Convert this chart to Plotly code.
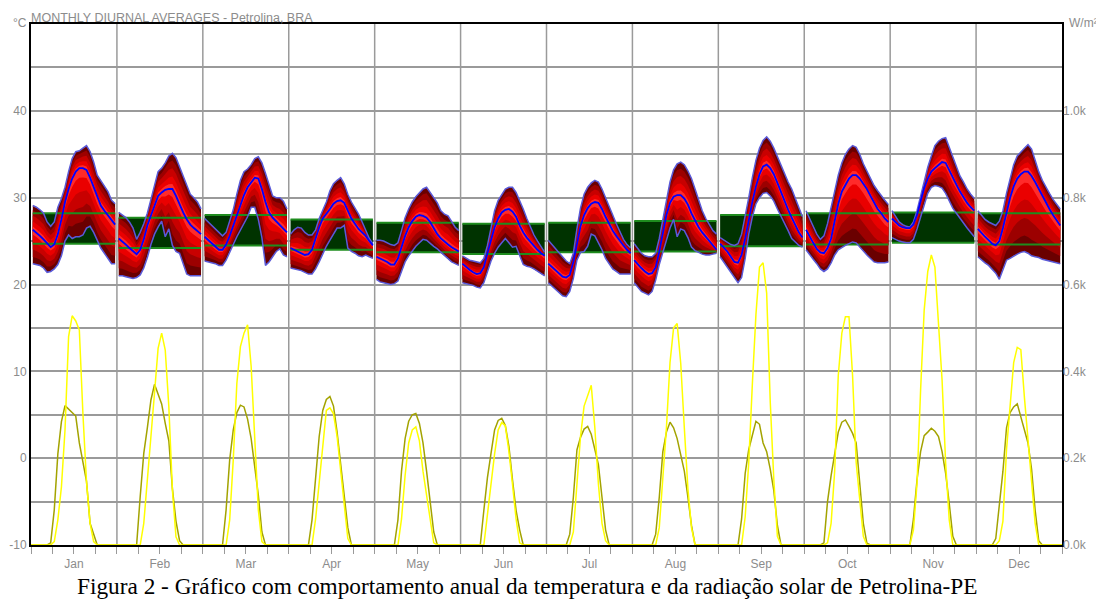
import plotly.graph_objects as go

months = ["Jan", "Feb", "Mar", "Apr", "May", "Jun", "Jul", "Aug", "Sep", "Oct", "Nov", "Dec"]
temp_ticks = [-10, 0, 10, 20, 30, 40]
temp_tick_text = ["-10", "0", "10", "20", "30", "40"]
rad_ticks = [0, 200, 400, 600, 800, 1000]
rad_tick_text = ["0.0k", "0.2k", "0.4k", "0.6k", "0.8k", "1.0k"]

# comfort band (deg C) per month
comfort_low = [24.7, 24.2, 24.5, 24.0, 23.7, 23.5, 23.7, 23.8, 24.4, 24.6, 24.8, 24.6]
comfort_high = [28.2, 27.7, 28.0, 27.5, 27.1, 27.0, 27.1, 27.3, 28.0, 28.2, 28.3, 28.2]

# hourly average maximum dry bulb temperature (deg C), 24 values per month
temp_max = [
    [29.1, 28.9, 28.6, 28.2, 27.2, 26.7, 27.2, 28.9, 29.9, 31.2, 33.0, 34.5, 35.3, 35.4, 35.7, 36.0, 35.3, 34.1, 32.6, 32.0, 31.4, 30.7, 29.7, 29.3],
    [28.3, 28.0, 27.7, 27.2, 26.5, 25.2, 26.0, 27.0, 28.2, 29.8, 31.5, 33.0, 33.4, 34.0, 34.8, 35.1, 34.6, 33.6, 32.5, 31.5, 30.4, 30.0, 29.5, 28.7],
    [27.6, 27.2, 26.7, 26.3, 25.9, 25.6, 26.0, 27.3, 28.6, 30.4, 32.0, 33.0, 33.3, 33.8, 34.5, 34.7, 34.0, 32.8, 31.5, 30.2, 30.0, 30.0, 29.6, 28.7],
    [25.8, 26.3, 26.6, 26.5, 26.0, 25.7, 25.7, 26.3, 27.6, 28.6, 29.5, 30.8, 31.6, 32.0, 32.3, 31.6, 30.4, 29.5, 28.8, 28.1, 27.2, 26.2, 25.3, 24.7],
    [25.1, 25.1, 25.0, 24.8, 24.6, 24.5, 24.8, 26.2, 27.7, 28.7, 29.5, 30.1, 30.5, 31.0, 31.2, 30.6, 30.0, 29.4, 28.5, 28.1, 27.9, 27.2, 26.6, 26.2],
    [23.3, 23.0, 22.8, 22.7, 22.6, 22.5, 23.0, 24.5, 26.5, 28.5, 29.7, 30.4, 31.0, 31.2, 31.2, 30.6, 29.7, 28.7, 27.6, 26.6, 25.7, 25.0, 24.3, 23.7],
    [25.1, 24.6, 24.1, 23.6, 23.1, 22.7, 22.4, 23.6, 26.4, 28.8, 30.4, 31.2, 31.7, 32.0, 31.8, 31.0, 30.0, 29.1, 28.0, 27.0, 26.0, 25.2, 24.6, 24.2],
    [24.7, 24.1, 23.6, 23.3, 23.2, 23.2, 23.6, 25.3, 27.6, 29.9, 31.8, 33.2, 33.9, 34.1, 33.8, 33.1, 32.2, 31.0, 29.7, 28.5, 27.6, 26.9, 26.2, 25.8],
    [25.4, 25.1, 24.8, 24.6, 24.5, 24.7, 25.8, 27.8, 30.0, 32.3, 34.3, 35.7, 36.6, 37.0, 36.5, 35.7, 34.7, 33.6, 32.6, 31.8, 31.0, 30.0, 28.8, 27.8],
    [28.5, 27.6, 26.7, 25.8, 25.2, 25.6, 27.0, 29.0, 31.0, 32.6, 34.0, 35.0, 35.6, 36.0, 35.8, 35.0, 33.9, 33.0, 32.2, 31.4, 30.8, 30.2, 29.7, 29.2],
    [28.5, 27.8, 27.2, 26.9, 26.7, 26.6, 27.2, 28.5, 30.2, 32.0, 33.5, 34.8, 36.0, 36.5, 36.8, 36.9, 35.8, 34.5, 33.4, 32.5, 31.8, 31.0, 30.4, 29.9],
    [28.5, 28.0, 27.5, 27.2, 27.0, 26.8, 27.3, 28.5, 30.5, 32.2, 33.8, 34.8, 35.3, 35.7, 36.1, 35.6, 34.3, 33.0, 32.0, 31.2, 30.5, 29.8, 29.2, 28.7],
]

# hourly average dry bulb temperature (deg C)
temp_mean = [
    [26.3, 26.0, 25.6, 25.2, 24.7, 24.3, 24.6, 25.8, 27.5, 29.5, 31.0, 32.2, 33.0, 33.4, 33.4, 33.2, 32.3, 31.2, 30.0, 29.1, 28.5, 28.0, 27.4, 26.9],
    [25.3, 25.0, 24.6, 24.2, 23.8, 23.5, 24.0, 25.2, 26.8, 28.0, 29.2, 30.2, 30.6, 30.9, 31.0, 31.0, 30.2, 29.2, 28.3, 27.5, 26.9, 26.5, 26.1, 25.8],
    [25.5, 25.1, 24.7, 24.3, 24.0, 24.0, 24.6, 25.6, 26.8, 28.0, 29.2, 30.3, 31.2, 31.8, 32.3, 32.2, 31.0, 29.5, 28.3, 27.7, 27.3, 26.9, 26.5, 26.0],
    [24.2, 24.0, 23.8, 23.6, 23.4, 23.5, 24.0, 25.3, 26.6, 27.6, 28.1, 28.7, 29.3, 29.6, 29.7, 29.4, 28.5, 27.6, 27.0, 26.4, 26.0, 25.6, 25.0, 24.5],
    [23.2, 23.0, 22.8, 22.6, 22.3, 22.3, 23.0, 24.3, 25.6, 26.6, 27.3, 27.8, 28.0, 27.9, 27.7, 27.2, 26.5, 25.8, 25.3, 24.9, 24.6, 24.3, 24.0, 23.8],
    [22.4, 22.0, 21.7, 21.4, 21.2, 21.3, 22.0, 23.6, 25.2, 26.6, 27.6, 28.3, 28.6, 28.7, 28.4, 27.8, 26.8, 26.0, 25.4, 24.9, 24.4, 24.0, 23.6, 23.3],
    [22.4, 22.0, 21.6, 21.2, 20.9, 20.8, 21.1, 22.6, 24.8, 26.7, 28.0, 28.8, 29.3, 29.5, 29.4, 28.7, 27.8, 27.0, 26.2, 25.6, 25.0, 24.5, 24.0, 23.6],
    [22.8, 22.3, 21.9, 21.5, 21.2, 21.3, 22.0, 23.8, 26.0, 28.0, 29.4, 30.1, 30.3, 30.3, 29.9, 29.2, 28.2, 27.3, 26.6, 26.0, 25.5, 25.0, 24.5, 24.0],
    [24.7, 24.3, 23.8, 23.2, 22.6, 22.5, 23.4, 25.3, 27.5, 29.5, 31.3, 32.7, 33.6, 33.8, 33.4, 32.7, 31.7, 30.6, 29.5, 28.6, 27.7, 26.8, 26.0, 25.4],
    [26.3, 25.5, 24.8, 24.1, 23.7, 23.6, 24.2, 25.3, 27.2, 29.3, 30.7, 31.5, 32.2, 32.6, 32.6, 32.2, 31.6, 31.0, 30.2, 29.4, 28.7, 28.2, 27.6, 27.2],
    [27.6, 27.2, 26.8, 26.6, 26.5, 26.5, 26.9, 28.0, 29.6, 31.1, 32.2, 33.0, 33.4, 33.8, 34.1, 34.0, 33.1, 32.2, 31.5, 30.7, 30.0, 29.4, 28.9, 28.5],
    [26.4, 25.9, 25.5, 25.1, 24.7, 24.5, 25.0, 26.5, 28.3, 30.0, 31.3, 32.2, 32.7, 33.0, 33.0, 32.5, 31.8, 31.0, 30.2, 29.4, 28.7, 28.0, 27.4, 26.8],
]

# hourly average minimum dry bulb temperature (deg C)
temp_min = [
    [22.4, 22.3, 22.2, 21.9, 21.4, 21.5, 21.8, 22.3, 23.3, 25.0, 25.7, 25.3, 25.5, 25.5, 25.7, 26.5, 26.7, 26.0, 25.0, 24.2, 23.6, 23.0, 22.4, 22.4],
    [21.0, 21.0, 20.9, 20.8, 20.7, 20.8, 21.1, 21.9, 23.1, 24.6, 25.8, 26.6, 27.3, 25.5, 26.4, 24.5, 23.8, 23.6, 22.5, 21.2, 21.0, 21.0, 21.0, 21.0],
    [22.7, 22.6, 22.5, 22.4, 22.2, 22.2, 22.8, 23.8, 24.6, 25.5, 26.3, 27.0, 27.8, 28.9, 28.9, 27.5, 25.4, 22.2, 22.6, 23.2, 23.8, 24.1, 23.4, 23.2],
    [21.9, 21.8, 21.7, 21.6, 21.4, 21.2, 21.2, 21.8, 22.6, 23.6, 24.4, 25.1, 25.8, 26.5, 26.5, 26.8, 24.2, 23.8, 23.6, 23.3, 23.2, 23.4, 23.2, 23.0],
    [20.6, 20.3, 20.2, 20.1, 20.0, 20.1, 20.4, 21.5, 22.6, 23.3, 23.9, 24.4, 24.8, 25.2, 25.1, 24.7, 24.4, 24.1, 23.7, 23.3, 22.9, 22.6, 22.4, 22.2],
    [20.2, 20.1, 20.0, 19.9, 19.7, 19.6, 20.2, 21.5, 22.7, 23.6, 24.3, 24.8, 25.3, 24.8, 24.3, 24.4, 23.3, 22.3, 22.1, 22.0, 21.8, 21.5, 21.2, 21.0],
    [20.2, 19.8, 19.4, 19.1, 18.7, 18.6, 19.2, 20.7, 22.8, 23.7, 23.8, 24.4, 25.8, 25.6, 24.8, 24.0, 23.0, 22.4, 21.8, 21.5, 21.2, 21.2, 21.2, 21.2],
    [20.2, 19.7, 19.2, 19.0, 18.8, 19.2, 20.5, 22.3, 23.7, 24.9, 26.5, 27.5, 25.5, 26.4, 26.2, 25.4, 24.3, 23.9, 23.7, 23.5, 23.4, 23.4, 23.5, 23.6],
    [23.2, 22.6, 22.0, 21.4, 20.8, 20.2, 20.8, 23.0, 25.8, 27.8, 29.3, 30.0, 30.5, 30.6, 30.2, 29.6, 28.7, 27.9, 27.0, 26.2, 25.3, 24.9, 24.5, 24.3],
    [24.0, 23.4, 22.9, 22.4, 21.8, 21.5, 21.8, 22.5, 23.4, 24.0, 24.3, 24.5, 24.7, 24.9, 24.8, 24.3, 23.8, 23.4, 23.0, 22.6, 22.5, 22.5, 22.5, 22.6],
    [25.4, 25.2, 25.0, 24.9, 24.8, 24.8, 25.2, 26.4, 27.8, 29.3, 30.5, 31.2, 31.4, 31.3, 31.1, 30.5, 29.6, 28.8, 28.2, 27.6, 27.0, 26.5, 26.0, 25.5],
    [23.2, 22.8, 22.5, 22.2, 21.8, 21.3, 20.6, 21.8, 22.8, 23.0, 23.3, 23.5, 23.7, 23.8, 23.6, 23.3, 23.2, 23.1, 22.9, 22.8, 22.7, 22.6, 22.5, 22.4],
]

# hourly direct normal radiation (W/m2) - yellow
rad_direct = [
    [0, 0, 0, 0, 0, 0, 8, 58, 134, 265, 480, 528, 516, 495, 303, 146, 50, 8, 0, 0, 0, 0, 0, 0],
    [0, 0, 0, 0, 0, 0, 0, 50, 157, 242, 350, 453, 488, 449, 319, 127, 19, 0, 0, 0, 0, 0, 0, 0],
    [0, 0, 0, 0, 0, 0, 0, 58, 196, 372, 457, 488, 507, 411, 250, 81, 8, 0, 0, 0, 0, 0, 0, 0],
    [0, 0, 0, 0, 0, 0, 0, 60, 140, 230, 310, 316, 302, 250, 170, 85, 15, 0, 0, 0, 0, 0, 0, 0],
    [0, 0, 0, 0, 0, 0, 0, 60, 160, 235, 265, 272, 240, 170, 115, 50, 5, 0, 0, 0, 0, 0, 0, 0],
    [0, 0, 0, 0, 0, 0, 0, 70, 142, 210, 265, 282, 275, 215, 140, 60, 5, 0, 0, 0, 0, 0, 0, 0],
    [0, 0, 0, 0, 0, 0, 0, 30, 130, 250, 320, 345, 368, 270, 140, 50, 10, 0, 0, 0, 0, 0, 0, 0],
    [0, 0, 0, 0, 0, 0, 0, 40, 150, 270, 420, 500, 510, 418, 270, 130, 40, 0, 0, 0, 0, 0, 0, 0],
    [0, 0, 0, 0, 0, 0, 0, 65, 190, 370, 530, 640, 650, 580, 330, 150, 20, 0, 0, 0, 0, 0, 0, 0],
    [0, 0, 0, 0, 0, 0, 5, 50, 170, 390, 488, 526, 526, 390, 190, 95, 20, 0, 0, 0, 0, 0, 0, 0],
    [0, 0, 0, 0, 0, 0, 35, 142, 357, 541, 630, 668, 640, 500, 380, 188, 58, 0, 0, 0, 0, 0, 0, 0],
    [0, 0, 0, 0, 0, 0, 10, 55, 219, 320, 420, 455, 450, 340, 245, 157, 50, 0, 0, 0, 0, 0, 0, 0],
]

# hourly global horizontal radiation (W/m2) - olive
rad_global = [
    [0, 0, 0, 0, 0, 5, 81, 210, 284, 321, 313, 305, 297, 235, 189, 147, 50, 23, 0, 0, 0, 0, 0, 0],
    [0, 0, 0, 0, 0, 0, 111, 211, 270, 334, 370, 348, 325, 280, 240, 130, 55, 10, 0, 0, 0, 0, 0, 0],
    [0, 0, 0, 0, 0, 0, 81, 196, 265, 305, 322, 318, 290, 245, 180, 115, 30, 0, 0, 0, 0, 0, 0, 0],
    [0, 0, 0, 0, 0, 0, 58, 160, 250, 310, 335, 342, 320, 260, 190, 110, 40, 0, 0, 0, 0, 0, 0, 0],
    [0, 0, 0, 0, 0, 0, 58, 170, 245, 285, 300, 303, 280, 235, 170, 100, 30, 0, 0, 0, 0, 0, 0, 0],
    [0, 0, 0, 0, 0, 0, 80, 155, 211, 265, 287, 292, 275, 227, 150, 80, 35, 0, 0, 0, 0, 0, 0, 0],
    [0, 0, 0, 0, 0, 0, 25, 110, 219, 248, 267, 273, 255, 222, 185, 110, 35, 0, 0, 0, 0, 0, 0, 0],
    [0, 0, 0, 0, 0, 0, 25, 110, 215, 260, 283, 270, 245, 211, 170, 110, 45, 0, 0, 0, 0, 0, 0, 0],
    [0, 0, 0, 0, 0, 0, 60, 165, 220, 255, 285, 278, 235, 215, 175, 125, 45, 0, 0, 0, 0, 0, 0, 0],
    [0, 0, 0, 0, 0, 5, 100, 160, 215, 260, 283, 288, 273, 257, 235, 150, 50, 4, 0, 0, 0, 0, 0, 0],
    [0, 0, 0, 0, 0, 0, 60, 150, 215, 252, 260, 269, 262, 250, 215, 165, 96, 20, 0, 0, 0, 0, 0, 0],
    [0, 0, 0, 0, 0, 15, 90, 170, 270, 305, 318, 325, 295, 265, 235, 175, 80, 10, 0, 0, 0, 0, 0, 0],
]

HPD = 24  # hours per month block on the x axis


def hour_x(m):
    return [HPD * m + 0.5 + h for h in range(HPD)]


fig = go.Figure()

# comfort band (dark green) underneath
for m in range(12):
    xs = hour_x(m)
    lo, hi = comfort_low[m], comfort_high[m]
    fig.add_trace(go.Scatter(
        x=[xs[0], xs[-1], xs[-1], xs[0], xs[0]], y=[lo, lo, hi, hi, lo],
        mode="lines", fill="toself", fillcolor="#003300",
        line=dict(width=0, color="#003300"), hoverinfo="skip"))

# temperature range, layered to imitate the red gradient around the mean
layers = [(1.0, "#6a0000"), (0.8, "#9c0000"), (0.58, "#c80000"), (0.35, "#ea0000"), (0.14, "#ff2a2a")]
for m in range(12):
    xs = hour_x(m)
    for f, col in layers:
        up = [a + f * (b - a) for a, b in zip(temp_mean[m], temp_max[m])]
        dn = [a - f * (a - c) for a, c in zip(temp_mean[m], temp_min[m])]
        fig.add_trace(go.Scatter(
            x=xs + xs[::-1], y=up + dn[::-1], mode="lines", fill="toself",
            fillcolor=col, line=dict(width=0, color=col), hoverinfo="skip"))

# comfort band edges
bx, by_lo, by_hi = [], [], []
for m in range(12):
    xs = hour_x(m)
    bx += [xs[0], xs[-1], None]
    by_lo += [comfort_low[m], comfort_low[m], None]
    by_hi += [comfort_high[m], comfort_high[m], None]
for yy in (by_lo, by_hi):
    fig.add_trace(go.Scatter(x=bx, y=yy, mode="lines",
                             line=dict(color="#1e8c1e", width=2), hoverinfo="skip"))


# min / max outlines and mean line
def joined(series):
    xx, yy = [], []
    for m in range(12):
        xx += hour_x(m) + [None]
        yy += series[m] + [None]
    return xx, yy


for series, col, w in ((temp_max, "#5a5ad8", 1.5), (temp_min, "#5a5ad8", 1.5), (temp_mean, "#0000ff", 1.8)):
    xx, yy = joined(series)
    fig.add_trace(go.Scatter(x=xx, y=yy, mode="lines", line=dict(color=col, width=w),
                             hoverinfo="skip"))


# radiation (right axis), continuous through the year
def continuous(series):
    xx, yy = [0], [series[0][0]]
    for m in range(12):
        xx += hour_x(m)
        yy += series[m]
    xx.append(HPD * 12)
    yy.append(series[-1][-1])
    return xx, yy


for series, col in ((rad_global, "#a3a300"), (rad_direct, "#ffff00")):
    xx, yy = continuous(series)
    fig.add_trace(go.Scatter(x=xx, y=yy, yaxis="y2", mode="lines",
                             line=dict(color=col, width=1.5), hoverinfo="skip"))

grid = "#9a9a9a"
label_col = "#8c8c8c"

shapes = [dict(type="line", xref="x", yref="paper", x0=HPD * m, x1=HPD * m, y0=0, y1=1,
               line=dict(color=grid, width=1.5), layer="below") for m in range(1, 12)]

# the page body adds an 8px margin, so the figure is 8px smaller in each direction
fig.update_layout(
    width=1096, height=591,
    margin=dict(l=23, r=42, t=16, b=54, autoexpand=False),
    paper_bgcolor="white", plot_bgcolor="white",
    showlegend=False,
    font=dict(family="Liberation Sans, Arial, sans-serif", size=12, color=label_col),
    shapes=shapes,
    xaxis=dict(
        range=[0, HPD * 12], automargin=False,
        tickvals=[HPD * m + HPD / 2 for m in range(12)], ticktext=months,
        ticks="outside", ticklen=7, tickcolor=grid, tickwidth=1,
        showgrid=False, zeroline=False,
        showline=True, linecolor="black", linewidth=2, mirror=True,
        minor=dict(dtick=6, tick0=0, ticks="outside", ticklen=7, tickcolor=grid, showgrid=False),
        tickfont=dict(size=12, color=label_col),
        layer="below traces",
    ),
    yaxis=dict(
        range=[-10, 50], automargin=False,
        tickvals=temp_ticks, ticktext=temp_tick_text,
        showgrid=True, gridcolor=grid, gridwidth=1.5,
        minor=dict(dtick=5, tick0=0, showgrid=True, gridcolor=grid, gridwidth=1.5),
        zeroline=False, ticks="",
        showline=True, linecolor="black", linewidth=2, mirror=True,
        tickfont=dict(size=12, color=label_col),
        layer="below traces",
    ),
    yaxis2=dict(
        overlaying="y", side="right", range=[0, 1200], automargin=False,
        tickvals=rad_ticks, ticktext=rad_tick_text,
        showgrid=False, zeroline=False, ticks="",
        tickfont=dict(size=12, color=label_col),
    ),
    annotations=[
        dict(text="MONTHLY DIURNAL AVERAGES - Petrolina, BRA", xref="paper", yref="paper",
             x=0, y=1, xanchor="left", yanchor="bottom", showarrow=False, xshift=-2, yshift=-3,
             font=dict(size=12.5, color=label_col)),
        dict(text="°C", xref="paper", yref="paper", x=0, y=1, xanchor="right", yanchor="middle",
             showarrow=False, xshift=-2, yshift=1, font=dict(size=12, color=label_col)),
        dict(text="W/m²", xref="paper", yref="paper", x=1, y=1, xanchor="left", yanchor="middle",
             showarrow=False, xshift=5, yshift=1, font=dict(size=12, color=label_col)),
        dict(text="Figura 2 - Gráfico com comportamento anual da temperatura e da radiação solar de Petrolina-PE",
             xref="paper", yref="paper", x=0.481, y=-0.078, xanchor="center", yanchor="middle",
             showarrow=False, font=dict(family="Liberation Serif, Times New Roman, serif", size=23.3, color="black")),
    ],
)

fig.write_html("out.html")
